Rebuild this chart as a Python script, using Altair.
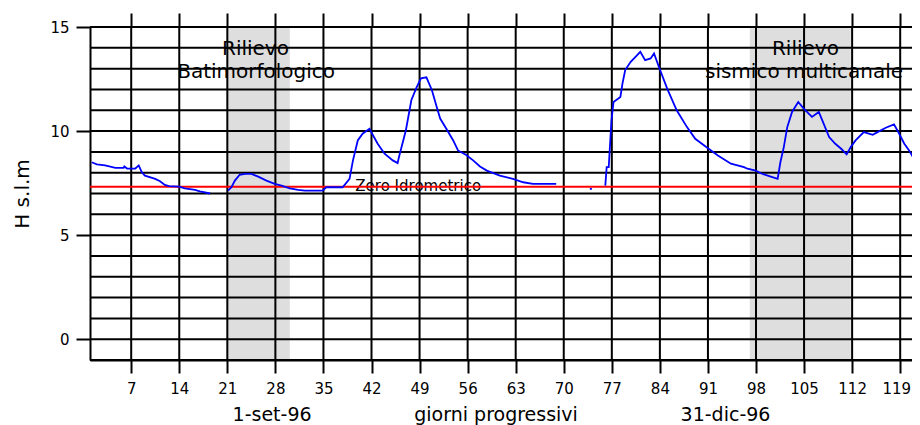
import altair as alt
import pandas as pd

# ---- data ----
days = [1.25, 2.0, 3.2, 4.7, 5.9, 6.0, 6.4, 7.6, 8.1, 8.55, 9.0, 10.5, 11.2, 11.9, 12.5, 14.0,
        14.8, 16.3, 17.0, 18.5, 19.8,
        21.1, 21.6, 22.1, 22.8, 23.6, 24.5, 25.5, 26.7, 27.9, 28.9, 30.1, 31.3, 32.3, 34.9, 35.4,
        37.8, 38.8, 39.3, 40.0, 40.7, 41.7, 42.9, 43.9, 45.1, 45.8, 46.0, 47.0, 47.8, 48.5, 49.2,
        50.0, 50.8, 51.5, 52.0, 52.9, 53.9, 54.6, 55.8, 56.8, 57.8, 58.8, 60.7, 62.6, 64.1, 65.5,
        68.9, 70.5,
        73.8, 74.1, 75.0,
        76.05, 76.25, 76.55, 76.75, 76.95, 77.25, 78.25, 78.55, 78.95, 79.75, 80.45, 81.15, 81.85,
        82.65, 83.15, 83.85, 85.05, 86.45, 87.95, 89.15, 90.75, 92.45, 94.35, 96.25, 96.75, 97.95,
        98.95, 100.15, 101.15, 101.55, 102.05, 102.55, 103.25, 104.15, 104.95, 106.15, 107.15,
        107.85, 108.65, 109.55, 110.4, 111.2, 111.8, 112.5, 113.7, 115.0, 115.7, 116.9, 118.1,
        118.6, 119.6, 120.3, 121.0, 122.0]
levels = [8.5, 8.4, 8.35, 8.23, 8.23, 8.3, 8.2, 8.2, 8.35, 8.02, 7.86, 7.7, 7.59, 7.41, 7.35, 7.33,
          7.25, 7.17, 7.1, 7.0, None,
          7.14, 7.3, 7.62, 7.9, 7.94, 7.94, 7.81, 7.62, 7.46, 7.38, 7.25, 7.17, 7.14, 7.14, 7.3,
          7.3, 7.7, 8.59, 9.55, 9.87, 10.11, 9.39, 8.91, 8.59, 8.46, 8.75, 10.03, 11.48, 12.05, 12.53,
          12.58, 11.96, 11.16, 10.6, 10.11, 9.55, 9.07, 8.85, 8.59, 8.3, 8.1, 7.86, 7.7, 7.54, 7.46,
          7.46, None,
          7.22, 7.22, None,
          7.38, 8.27, 8.27, 9.39, 10.52, 11.4, 11.64, 12.28, 12.93, 13.33, 13.57, 13.81, 13.41,
          13.49, 13.73, 13.09, 12.05, 11.0, 10.19, 9.63, 9.23, 8.83, 8.43, 8.27, 8.19, 8.1,
          7.94, 7.81, 7.7, 8.5, 9.23, 10.19, 10.92, 11.4, 11.08, 10.68, 10.92,
          10.36, 9.71, 9.39, 9.15, 8.88, 9.23, 9.55, 9.95, 9.82, 9.95, 10.16, 10.32,
          10.03, 9.39, 9.07, 8.67, 8.67]

x_ticks = [7, 14, 21, 28, 35, 42, 49, 56, 63, 70, 77, 84, 91, 98, 105, 112, 119]
y_labels = [0, 5, 10, 15]
h_grid = list(range(-1, 16))
zero_level = [7.33]

band_start = [21.0, 97.1]
band_end = [30.1, 111.8]
band_top = [15, 15]
band_bottom = [-1, -1]

label_text = ["Rilievo", "Batimorfologico", "Rilievo", "sismico multicanale"]
label_day = [25.1, 25.2, 105.2, 105.0]
label_h = [13.65, 12.55, 13.65, 12.55]

zero_text = ["Zero Idrometrico"]
zero_day = [48.8]
zero_h = [7.12]

x_title = "1-set-96" + "\u00a0" * 17 + "giorni progressivi" + "\u00a0" * 17 + "31-dic-96"
y_title = "H s.l.m"

FONT = "DejaVu Sans"

line_df = pd.DataFrame({"day": days, "h": levels})
band_df = pd.DataFrame({"start": band_start, "end": band_end, "top": band_top, "bottom": band_bottom})
lab_df = pd.DataFrame({"text": label_text, "day": label_day, "h": label_h})
zero_txt_df = pd.DataFrame({"text": zero_text, "day": zero_day, "h": zero_h})
hgrid_df = pd.DataFrame({"h": h_grid})
vgrid_df = pd.DataFrame({"day": x_ticks})
zero_df = pd.DataFrame({"h": zero_level})

xs = alt.Scale(domain=[1, 120.72], nice=False, zero=False)
ys = alt.Scale(domain=[-1, 15], nice=False, zero=False)

y_axis = alt.Axis(orient="left", values=y_labels, grid=False, tickSize=14,
                  tickWidth=2, tickColor="black", domainColor="black",
                  domainWidth=2, labelFont=FONT, labelFontSize=15,
                  labelColor="black", labelPadding=7, title=y_title,
                  titleFont=FONT, titleFontSize=20, titleFontWeight="normal",
                  titleColor="black", titlePadding=17)

x_axis = alt.Axis(orient="bottom", values=x_ticks, grid=False, tickSize=13,
                  tickWidth=2, tickColor="black", domainColor="black",
                  domainWidth=2, labelFont=FONT, labelFontSize=15,
                  labelOffset={"condition": {"test": "datum.value >= 119", "value": -4},
                               "value": 0},
                  labelColor="black", labelPadding=8, title=x_title,
                  titleFont=FONT, titleFontSize=19, titleFontWeight="normal",
                  titleColor="black", titlePadding=9)

top_axis = alt.Axis(orient="top", values=x_ticks, labels=False, domain=False,
                    grid=False, ticks=True, tickSize=14, tickWidth=2,
                    tickColor="black", title=None)


def X(field, axis=None):
    return alt.X(field, type="quantitative", scale=xs, axis=axis)


def Y(field):
    return alt.Y(field, type="quantitative", scale=ys, axis=y_axis)


band = alt.Chart(band_df).mark_rect(color="#dedede").encode(
    x=X("start", x_axis), x2="end", y=Y("top"), y2="bottom")

labels = alt.Chart(lab_df).mark_text(font=FONT, fontSize=20, color="black",
                                     align="center", baseline="alphabetic").encode(
    x=X("day"), y=Y("h"), text="text:N")

zero_lab = alt.Chart(zero_txt_df).mark_text(font=FONT, fontSize=15, color="black",
                                            align="center", baseline="alphabetic").encode(
    x=X("day"), y=Y("h"), text="text:N")

hgrid = alt.Chart(hgrid_df).mark_rule(color="black", strokeWidth=2).encode(y=Y("h"))

vgrid = alt.Chart(vgrid_df).mark_rule(color="black", strokeWidth=2).encode(
    x=X("day", top_axis))

red = alt.Chart(zero_df).mark_rule(color="#ff0000", strokeWidth=2).encode(y=Y("h"))

line = alt.Chart(line_df).mark_line(color="#0000ff", strokeWidth=1.8, clip=True).encode(
    x=X("day"), y=Y("h"))

chart = alt.layer(band, labels, zero_lab, hgrid, vgrid, red, line).properties(
    width=822, height=333,
    autosize=alt.AutoSizeParams(type="none"),
    padding={"left": 82, "top": 19, "right": 0, "bottom": 65},
    background="white",
).configure_view(stroke="transparent")

chart.save("out.html", embed_options={"renderer": "svg", "actions": False})
